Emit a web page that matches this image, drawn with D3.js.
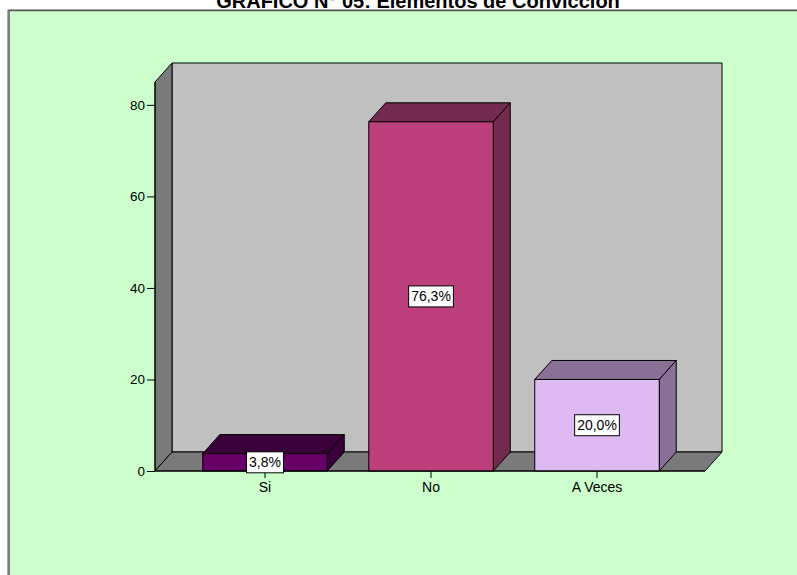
<!DOCTYPE html>
<html>
<head>
<meta charset="utf-8">
<script src="https://cdn.jsdelivr.net/npm/d3@7"></script>
<style>
  html, body { margin: 0; padding: 0; background: #ffffff; }
  svg { display: block; }
</style>
</head>
<body>
<svg id="chart" width="797" height="575"></svg>
<script>
// Respuestas: Elementos de Convicción
const categories = ["Si", "No", "A Veces"];
const percents = [3.8, 76.3, 20.0];
const yTicks = [0, 20, 40, 60, 80];
const frontColors = ["#660066", "#bc3f7c", "#dfbaf2"];
const shadeColors = ["#3a003a", "#722a4e", "#8a7096"];
const titleText = "GRAFICO N° 05: Elementos de Convicción";

const svg = d3.select("#chart");
const W = 797, H = 575;
const FONT = "Arial, 'Liberation Sans', sans-serif";

// depth of the 3D extrusion
const dx = 17, dy = 19;

// panel background
svg.append("rect").attr("x", 0).attr("y", 0).attr("width", W).attr("height", H).attr("fill", "#ffffff");
svg.append("rect").attr("x", 9).attr("y", 10.5).attr("width", W).attr("height", H)
  .attr("fill", "#ccffcc").attr("stroke", "#555").attr("stroke-width", 1.5);
svg.append("line").attr("x1", 7.5).attr("x2", 7.5).attr("y1", 10).attr("y2", H)
  .attr("stroke", "#aaa").attr("stroke-width", 1);
svg.append("line").attr("x1", 8).attr("x2", W).attr("y1", 9.5).attr("y2", 9.5)
  .attr("stroke", "#aaa").attr("stroke-width", 1);

// title (its top runs off the page edge)
svg.append("text")
  .attr("x", 418).attr("y", 7.5)
  .attr("text-anchor", "middle")
  .attr("font-family", FONT)
  .attr("font-weight", "bold")
  .attr("font-size", 20)
  .attr("fill", "#000")
  .text(titleText);

// scales
const plotLeft = 155, plotRight = 705;
const y = d3.scaleLinear().domain([0, 85]).range([471, 82]);
const x = d3.scaleBand().domain(categories).range([182, 680]).paddingInner(0.25).paddingOuter(0.125);

const y0 = y(0), yTop = y(85);

// walls
const g = svg.append("g");
const poly = pts => pts.map(p => p.join(",")).join(" ");
// back wall
g.append("polygon")
  .attr("points", poly([[plotLeft + dx, yTop - dy], [plotRight + dx, yTop - dy], [plotRight + dx, y0 - dy], [plotLeft + dx, y0 - dy]]))
  .attr("fill", "#c0c0c0").attr("stroke", "#000").attr("stroke-width", 1);
// left wall
g.append("polygon")
  .attr("points", poly([[plotLeft, yTop], [plotLeft + dx, yTop - dy], [plotLeft + dx, y0 - dy], [plotLeft, y0]]))
  .attr("fill", "#7a7a7a").attr("stroke", "#000").attr("stroke-width", 1);
// floor
g.append("polygon")
  .attr("points", poly([[plotLeft, y0], [plotLeft + dx, y0 - dy], [plotRight + dx, y0 - dy], [plotRight, y0]]))
  .attr("fill", "#7a7a7a").attr("stroke", "#000").attr("stroke-width", 1);

// bars
const bars = g.selectAll("g.bar").data(categories.map((c, i) => ({ c, v: percents[i], i })))
  .enter().append("g").attr("class", "bar");

bars.append("polygon") // top face
  .attr("points", d => {
    const x0 = x(d.c), x1 = x0 + x.bandwidth(), yt = y(d.v);
    return poly([[x0, yt], [x0 + dx, yt - dy], [x1 + dx, yt - dy], [x1, yt]]);
  })
  .attr("fill", d => shadeColors[d.i]).attr("stroke", "#000").attr("stroke-width", 1).attr("stroke-linejoin", "round");

bars.append("polygon") // side face
  .attr("points", d => {
    const x1 = x(d.c) + x.bandwidth(), yt = y(d.v);
    return poly([[x1, yt], [x1 + dx, yt - dy], [x1 + dx, y0 - dy], [x1, y0]]);
  })
  .attr("fill", d => shadeColors[d.i]).attr("stroke", "#000").attr("stroke-width", 1).attr("stroke-linejoin", "round");

bars.append("rect") // front face
  .attr("x", d => x(d.c)).attr("y", d => y(d.v))
  .attr("width", x.bandwidth()).attr("height", d => y0 - y(d.v))
  .attr("fill", d => frontColors[d.i]).attr("stroke", "#000").attr("stroke-width", 1);

// y axis
const yAxis = d3.axisLeft(y).tickValues(yTicks).tickSize(8).tickPadding(2).tickFormat(d3.format("d"));
const ya = svg.append("g").attr("transform", `translate(${plotLeft},0)`).call(yAxis);
ya.select(".domain").attr("d", `M0,${yTop}V${y0}`).attr("stroke", "#000");
ya.selectAll(".tick line").attr("stroke", "#000");
ya.selectAll(".tick text").attr("font-family", FONT).attr("font-size", 13.5).attr("fill", "#000");

// x axis
const xAxis = d3.axisBottom(x).tickSize(7).tickPadding(4);
const xa = svg.append("g").attr("transform", `translate(0,${y0})`).call(xAxis);
xa.select(".domain").attr("d", `M${plotLeft},0H${plotRight}`).attr("stroke", "#000");
xa.selectAll(".tick line").attr("stroke", "#000");
xa.selectAll(".tick text").attr("font-family", FONT).attr("font-size", 14).attr("fill", "#000");

// value labels
const fmt = v => v.toFixed(1).replace(".", ",") + "%";
const lbl = svg.selectAll("g.lbl").data(categories.map((c, i) => ({ c, v: percents[i] })))
  .enter().append("g").attr("class", "lbl")
  .attr("transform", d => `translate(${x(d.c) + x.bandwidth() / 2},${(y(d.v) + y0) / 2})`);
lbl.append("text")
  .attr("text-anchor", "middle").attr("dy", "0.36em")
  .attr("font-family", FONT).attr("font-size", 14).attr("fill", "#000")
  .text(d => fmt(d.v));
lbl.each(function () {
  const t = d3.select(this).select("text");
  const bb = t.node().getBBox();
  d3.select(this).insert("rect", "text")
    .attr("x", bb.x - 2.5).attr("y", -10.5).attr("width", bb.width + 5).attr("height", 21)
    .attr("fill", "#fff").attr("stroke", "#000").attr("stroke-width", 1);
});
</script>
</body>
</html>
